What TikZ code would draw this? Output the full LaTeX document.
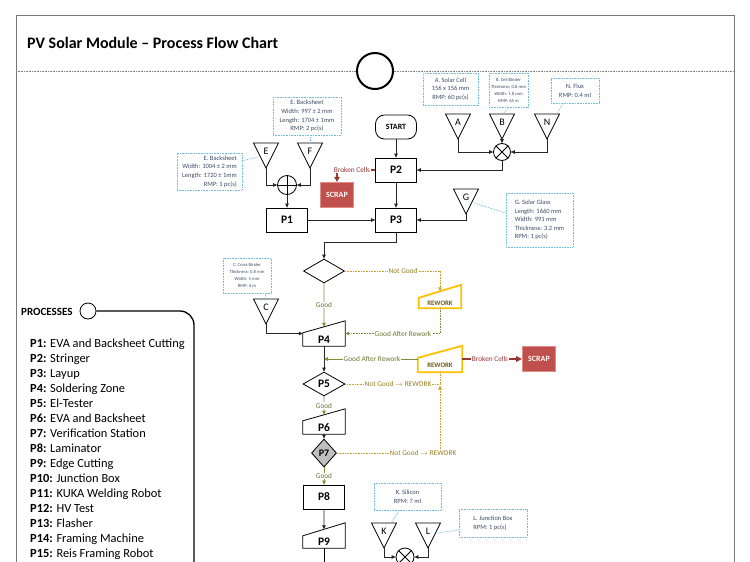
\documentclass[tikz,border=0pt]{standalone}
\usepackage{fontspec}
\setmainfont{Carlito}
\usetikzlibrary{arrows.meta,shapes.geometric,calc}
\definecolor{cbord}{RGB}{110,190,225}
\definecolor{ctext}{RGB}{60,76,100}
\definecolor{olivel}{RGB}{118,146,60}
\definecolor{olivetxt}{RGB}{100,120,50}
\definecolor{goldl}{RGB}{205,165,40}
\definecolor{goldtxt}{RGB}{150,125,30}
\definecolor{rwk}{RGB}{255,192,0}
\definecolor{rwktxt}{RGB}{110,90,20}
\definecolor{scrapfill}{RGB}{192,80,77}
\definecolor{scrapbord}{RGB}{225,140,135}
\definecolor{brk}{RGB}{150,55,50}
\definecolor{framec}{RGB}{120,120,120}
\newcommand\mshape[3]{%
  \draw[#3] (#1.south west) -- ([yshift=-#2pt]#1.north west) coordinate (#1-tl) -- (#1.north east) -- (#1.south east) -- cycle;
  \coordinate (#1-top) at ($(#1-tl)!0.5!(#1.north east)$);}
\newcommand\trin[4]{%
  \draw[line width=0.8pt] ({#2-12.5},#3) -- ({#2+12.5},#3) -- (#2,{#3+25}) coordinate (#1) -- cycle;
  \node[trilet] (#1-t) at (#2,{#3+8.5}) {#4};}
\newcommand\mixx[1]{\draw[line width=0.8pt] (#1.north west) -- (#1.south east) (#1.north east) -- (#1.south west);}
\begin{document}
\begin{tikzpicture}[x=1pt,y=-1pt,
  >={Triangle[length=4pt,width=3.6pt]},
  flow/.style={draw=black!85, line width=0.8pt, ->},
  proc/.style={draw, line width=0.8pt, minimum width=41pt, minimum height=24pt, inner sep=0, font=\fontsize{11.5}{13}\selectfont\bfseries},
  ghost/.style={minimum width=#1, inner sep=0},
  ptext/.style={inner sep=0, font=\fontsize{11.5}{13}\selectfont\bfseries},
  trilet/.style={inner sep=0, font=\fontsize{10}{11}\selectfont},
  callout/.style={draw=cbord, dash pattern=on 0.8pt off 0.8pt, line width=0.7pt, text=ctext, inner sep=1pt},
  cbig/.style={font=\fontsize{6.5}{8.6}\selectfont},
  csmall/.style={font=\fontsize{4.6}{7}\selectfont},
  leader/.style={draw=cbord, dash pattern=on 0.8pt off 0.8pt, line width=0.7pt},
  goodl/.style={draw=olivel, line width=0.8pt, ->},
  garline/.style={draw=olivel, dash pattern=on 0.8pt off 0.8pt, line width=0.9pt},
  goodlab/.style={fill=white, text=olivetxt, inner sep=0.8pt, font=\fontsize{7.3}{8}\selectfont},
  ngline/.style={draw=goldl, dash pattern=on 0.8pt off 0.8pt, line width=0.9pt},
  nglab/.style={fill=white, text=goldtxt, inner sep=0.8pt, font=\fontsize{7.3}{8}\selectfont},
  rwkshape/.style={draw=rwk, line width=1.8pt, line join=miter},
  rwlab/.style={inner sep=0, text=rwktxt, font=\fontsize{6.8}{8}\selectfont\bfseries},
  scrap/.style={fill=scrapfill, draw=scrapbord, line width=1.3pt, text=white, font=\fontsize{8}{9}\selectfont\bfseries, minimum width=33pt, minimum height=25pt, inner sep=0},
  brkline/.style={draw=brk, line width=1.4pt},
  brklab/.style={fill=white, text=brk, inner sep=0.8pt, font=\fontsize{7.3}{8}\selectfont},
  mixer/.style={circle, draw, line width=0.8pt, inner sep=0, fill=white},
  dia/.style={diamond, draw, line width=0.8pt, inner sep=0, font=\fontsize{11.5}{13}\selectfont\bfseries},
  listf/.style={anchor=base west, inner sep=0, font=\fontsize{12.4}{14}\selectfont}
]
\fill[white] (0,0) rectangle (750,562);
\useasboundingbox (0,0) rectangle (750,562);
% frame
\draw[framec, line width=1pt] (16,562) -- (16,15) -- (734,15) -- (734,562);
\node[anchor=base west, inner sep=0, font=\fontsize{16}{18}\selectfont\bfseries] (title) at (27,48) {PV Solar Module – Process Flow Chart};
\draw[gray, dash pattern=on 0.8pt off 0.8pt, line width=0.6pt] (16,71) -- (734,71);
\node[circle, draw, line width=2pt, fill=white, minimum size=36pt] (bigc) at (375,71) {};

% processes legend
\node[anchor=base west, inner sep=0, font=\fontsize{11}{12}\selectfont\bfseries] (proch) at (21,315) {PROCESSES};
\node[circle, draw, line width=0.8pt, minimum size=16pt, inner sep=0] (pcirc) at (88,311) {};
\coordinate (pend) at (194,562);
\draw[line width=1.3pt, rounded corners=14pt] (pcirc.east) -- (194,311) -- (pend);
\foreach \i/\t in {1/EVA and Backsheet Cutting,2/Stringer,3/Layup,4/Soldering Zone,5/El-Tester,6/EVA and Backsheet,7/Verification Station,8/Laminator,9/Edge Cutting,10/Junction Box,11/KUKA Welding Robot,12/HV Test,13/Flasher,14/Framing Machine,15/Reis Framing Robot}
  \node[listf] (pl\i) at (30,{332+15*\i}) {\textbf{P\i:} \t};

% callouts
\node[callout, cbig, align=center, minimum width=55pt, minimum height=32pt] (cA) at (450.5,89) {A. Solar Cell\\156 x 156 mm\\RMP: 60 pc(s)};
\node[callout, csmall, align=center, minimum width=39pt, minimum height=34pt] (cB) at (508.5,90) {B. Cell Binder\\Thickness: 0.8 mm\\Width: 1.8 mm\\RMP: 65 m};
\node[callout, cbig, align=center, minimum width=48pt, minimum height=25pt] (cN) at (575,90.5) {N. Flux\\RMP: 0.4 ml};
\node[callout, cbig, align=center, minimum width=68pt, minimum height=38pt] (cE2) at (307,116) {E. Backsheet\\Width: 997 ± 2 mm\\Length: 1704 ± 1mm\\RMP: 2 pc(s)};
\node[callout, cbig, align=right, minimum width=65pt, minimum height=37pt] (cE1) at (209.5,171.5) {E. Backsheet\\Width: 1004 ± 2 mm\\Length: 1720 ± 1mm\\RMP: 1 pc(s)};
\node[callout, cbig, align=left, minimum width=67pt, minimum height=54pt] (cG) at (539.5,220) {G. Solar Glass\\Length: 1660 mm\\Width: 991 mm\\Thickness: 3.2 mm\\RPM: 1 pc(s)};
\node[callout, csmall, align=center, minimum width=48pt, minimum height=35pt] (cC) at (247,275.5) {C. Cross Binder\\Thickness: 0.8 mm\\Width: 5 mm\\RMP: 6 m};
\node[callout, cbig, align=center, minimum width=67pt, minimum height=27pt] (cK) at (407.5,496.5) {K. Silicon\\RPM: 7 ml};
\node[callout, cbig, align=left, minimum width=68pt, minimum height=28pt] (cL) at (493,523) {L. Junction Box\\RPM: 1 pc(s)};

% triangles
\trin{A}{458}{114}{A}
\trin{B}{502}{114}{B}
\trin{N}{547}{114}{N}
\trin{E}{266}{143}{E}
\trin{F}{310}{143}{F}
\trin{G}{466}{189}{G}
\trin{C}{266}{299}{C}
\trin{K}{384}{523}{K}
\trin{L}{428}{523}{L}

% leaders
\coordinate (lB) at (503,114);
\coordinate (lN) at (557,114);
\coordinate (lE2) at (310,143);
\coordinate (lE1) at (258,157);
\coordinate (lG) at (474,203);
\coordinate (lC) at (266,299);
\coordinate (lK) at (391,523);
\coordinate (lL) at (437,533);
\draw[leader] (cB.south) -- (lB);
\draw[leader] ([xshift=-12pt]cN.south) -- (lN);
\draw[leader] ([xshift=3pt]cE2.south) -- (lE2);
\draw[leader] ([yshift=-8pt]cE1.north east) -- (lE1);
\draw[leader] ([yshift=7pt]cG.west) -- (lG);
\draw[leader] ([xshift=-6pt]cC.south east) -- (lC);
\draw[leader] ([xshift=-8pt]cK.south) -- (lK);
\draw[leader] ([yshift=-7pt]cL.west) -- (lL);

% mixers
\node[mixer, minimum size=17pt] (MX1) at (502,152) {};
\mixx{MX1}
\node[mixer, minimum size=19pt] (MX2) at (287,185) {};
\draw[line width=0.8pt] (MX2.north) -- (MX2.south) (MX2.west) -- (MX2.east);
\node[mixer, minimum size=18pt] (MX3) at (405,557) {};
\mixx{MX3}

% process boxes
\node[proc, rounded corners=9pt, font=\fontsize{8}{9}\selectfont\bfseries] (START) at (396,127) {START};
\node[proc] (P2) at (396,170) {P2};
\node[proc] (P1) at (287,220) {P1};
\node[proc] (P3) at (396,220) {P3};
\node[scrap] (S1) at (337,195) {SCRAP};
\node[dia, minimum width=41pt, minimum height=24pt] (D1) at (324,271) {};
\node[ghost=42pt, minimum height=25pt] (P4) at (324,333.5) {};
\mshape{P4}{12}{line width=0.8pt}
\node[ptext] (P4t) at (324,340) {P4};
\node[ghost=42pt, minimum height=23pt] (RW1) at (440,296.5) {};
\mshape{RW1}{13}{rwkshape}
\node[rwlab] (RW1t) at (440,303.5) {REWORK};
\node[ghost=44pt, minimum height=26pt] (RW2) at (440,359) {};
\mshape{RW2}{12}{rwkshape}
\node[rwlab] (RW2t) at (440,365.5) {REWORK};
\node[scrap] (S2) at (539,359) {SCRAP};
\node[dia, minimum width=42pt, minimum height=24pt] (P5) at (324,384) {P5};
\node[ghost=42pt, minimum height=25pt] (P6) at (324,421.5) {};
\mshape{P6}{12}{line width=0.8pt}
\node[ptext] (P6t) at (324,428) {P6};
\node[dia, fill=black!25, minimum width=25pt, minimum height=28pt, font=\fontsize{10}{11}\selectfont\bfseries] (P7) at (324,453) {P7};
\node[proc] (P8) at (324,497) {P8};
\node[ghost=42pt, minimum height=25pt] (P9) at (324,535.5) {};
\mshape{P9}{13}{line width=0.8pt}
\node[ptext] (P9t) at (324,542) {P9};
\coordinate (P9end) at (324,562);

% connectors
\draw[flow] (A) |- (MX1.west);
\draw[flow] (N) |- (MX1.east);
\draw[flow] (B) -- (MX1.north);
\draw[flow] (MX1.south) |- (P2.east);
\draw[flow] (E) |- (MX2.west);
\draw[flow] (F) |- (MX2.east);
\draw[flow] (MX2.south) -- (P1.north);
\draw[flow] (START) -- (P2);
\draw[flow] (P2) -- (P3);
\draw[flow] (P1) -- (P3);
\draw[flow] (G) |- (P3.east);
\draw[flow] (P3.south) -- ++(0,10) -| (D1.north);
\draw[flow] (K) |- (MX3.west);
\draw[flow] (L) |- (MX3.east);
\draw[flow] (C) |- (P4.west);
\draw[flow] (P4.south) -- (P5.north);
\draw[flow] (P6.south) -- (P7.north);
\draw[flow] (P8.south) -- (P9-top);
\draw[line width=0.8pt] (P9.south) -- (P9end);

% broken cells -> scrap
\coordinate (bc1) at (S1.north |- P2.west);
\draw[brkline, -{Triangle[length=5pt,width=5.5pt]}] (P2.west) -- (bc1) -- (S1.north);
\node[brklab] (bc1l) at (352,170) {Broken Cells};
\draw[brkline, -{Triangle[length=6pt,width=6pt]}] (RW2.east) -- (S2.west);
\node[brklab] (bc2l) at (490,359) {Broken Cells};

% good / not good
\draw[goodl] (D1.south) -- (P4-top) node[goodlab, midway] (g1) {Good};
\draw[ngline, ->] (D1.east) -| (RW1-top);
\node[nglab] (ng1) at (403,271) {Not Good};
\draw[garline, ->] (RW1.south) |- (P4.east);
\node[goodlab] (gar1) at (403,333.5) {Good After Rework};
\coordinate (j4) at (RW2.west -| P4.south);
\draw[goodl] (RW2.west) -- (j4);
\node[goodlab] (gar2) at (372,359) {Good After Rework};
\coordinate (j5) at (P5.east -| RW2.south);
\draw[ngline] (P5.east) -- (j5) -- (RW2.south);
\draw[ngline, ->] (P7.east) -| ([yshift=-1.5pt]j5);
\node[nglab] (ng5) at (398,384) {Not Good $\rightarrow$ REWORK};
\node[nglab] (ng7) at (423,453) {Not Good $\rightarrow$ REWORK};
\draw[goodl] (P5.south) -- (P6-top) node[goodlab, midway] (g5) {Good};
\draw[goodl] (P7.south) -- (P8.north) node[goodlab, midway] (g7) {Good};
\end{tikzpicture}
\end{document}
